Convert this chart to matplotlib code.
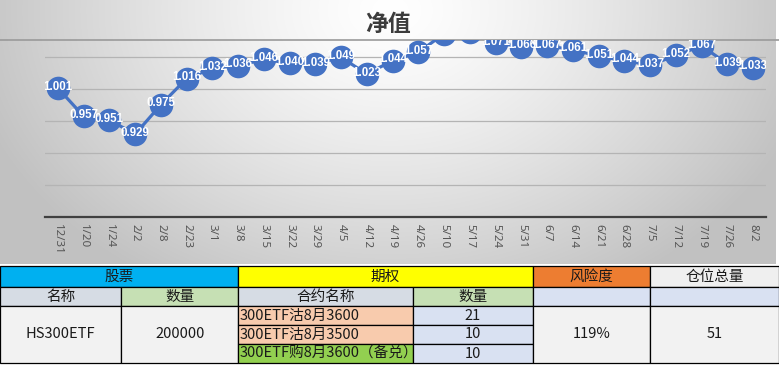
import numpy as np
import matplotlib.pyplot as plt
from matplotlib.patches import Rectangle

plt.rcParams['font.family'] = ['Noto Sans CJK SC', 'DejaVu Sans']

# chart data
dates = ["12/31", "1/20", "1/24", "2/2", "2/8", "2/23", "3/1", "3/8", "3/15",
         "3/22", "3/29", "4/5", "4/12", "4/19", "4/26", "5/10", "5/17", "5/24",
         "5/31", "6/7", "6/14", "6/21", "6/28", "7/5", "7/12", "7/19", "7/26", "8/2"]
nav = [1.001, 0.957, 0.951, 0.929, 0.975, 1.016, 1.032, 1.036, 1.046,
       1.040, 1.039, 1.049, 1.023, 1.044, 1.057, 1.086, 1.089, 1.071,
       1.066, 1.067, 1.061, 1.051, 1.044, 1.037, 1.052, 1.067, 1.039, 1.033]

# table data
group_headers = ["股票", "期权", "风险度", "仓位总量"]
sub_headers = ["名称", "数量", "合约名称", "数量", "", ""]
stock_name = "HS300ETF"
stock_qty = "200000"
contracts = ["300ETF沽8月3600", "300ETF沽8月3500", "300ETF购8月3600（备兑）"]
contract_qty = [21, 10, 10]
risk = "119%"
position_total = 51

W, H = 779, 365
fig = plt.figure(figsize=(W / 100, H / 100), dpi=100)

# pixel-coordinate canvas for background, title and table
bg = fig.add_axes([0, 0, 1, 1])
bg.set_xlim(0, W)
bg.set_ylim(H, 0)
bg.axis("off")

gw, gh = 776, 264
yy, xx = np.mgrid[0:gh, 0:gw]
t = np.sqrt(((xx - 390) / 430.0) ** 2 + ((yy - 10) / 320.0) ** 2)
shade = 1 - 0.24 * np.clip(t, 0, 1) ** 1.3
bg.imshow(np.dstack([shade] * 3), extent=(0, gw, gh, 0), aspect="auto", zorder=0)
bg.plot([0, W], [39.5, 39.5], color="#9a9a9a", lw=1.2, zorder=2)
bg.text(388, 24, "净值", ha="center", va="center", fontsize=16.5,
        fontweight="bold", color="#3c3c3c", zorder=3)

# chart axes
ax = fig.add_axes([45 / W, 1 - 216.7 / H, 721 / W, (216.7 - 39.5) / H])
ax.patch.set_alpha(0)
x = np.arange(len(dates))
ax.set_xlim(-0.5, len(dates) - 0.5)
ax.set_ylim(0.8, 1.077)
ax.set_yticks([0.85, 0.9, 0.95, 1.0, 1.05])
ax.yaxis.grid(True, color="#b4b4b4", lw=0.9)
ax.tick_params(axis="y", length=0, labelleft=False)
for s in ["left", "right", "top"]:
    ax.spines[s].set_visible(False)
ax.spines["bottom"].set_color("#404040")
ax.spines["bottom"].set_linewidth(1.6)
ax.set_xticks(x)
ax.set_xticklabels(dates, rotation=270, fontsize=8.3, color="#555555",
                   family=["Noto Sans", "DejaVu Sans"])
ax.tick_params(axis="x", length=0, pad=5)
ax.plot(x, nav, color="#4472C4", lw=2.3, marker="o", ms=17,
        markeredgewidth=0, zorder=3)
for xi, v in zip(x, nav):
    tx = ax.text(xi, v + 0.002, f"{v:.3f}", ha="center", va="center",
                 fontsize=8.3, fontweight="bold", color="white",
                 family=["Liberation Sans", "DejaVu Sans"], zorder=4)
    tx.set_clip_box(ax.bbox)
    tx.set_clip_on(True)

# table
cols = [0, 121.5, 238, 413, 533, 650, 779]
rows = [266, 287, 306, 325, 344, 363]
tfont = dict(fontsize=10.5, color="#1a1a1a", va="center")


def cell(x0, x1, y0, y1, color, label="", ha="center"):
    bg.add_patch(Rectangle((x0, y0), x1 - x0, y1 - y0, facecolor=color,
                           edgecolor="black", lw=0.9, zorder=5))
    if label != "":
        tx_ = (x0 + x1) / 2 if ha == "center" else x0 + 2
        bg.text(tx_, (y0 + y1) / 2, label, ha=ha, zorder=6, **tfont)


group_colors = ["#00B0F0", "#FFFF00", "#ED7D31", "#EFEFEF"]
group_spans = [(0, 2), (2, 4), (4, 5), (5, 6)]
for lab, c, (a, b) in zip(group_headers, group_colors, group_spans):
    cell(cols[a], cols[b], rows[0], rows[1], c, lab)

sub_colors = ["#D6DCE4", "#C6E0B4", "#D6DCE4", "#C6E0B4", "#D9E1F2", "#D9E1F2"]
for i, (lab, c) in enumerate(zip(sub_headers, sub_colors)):
    cell(cols[i], cols[i + 1], rows[1], rows[2], c, lab)

cell(cols[0], cols[1], rows[2], rows[5], "#F2F2F2", stock_name)
cell(cols[1], cols[2], rows[2], rows[5], "#F2F2F2", stock_qty)
contract_colors = ["#F8CBAD", "#F8CBAD", "#92D050"]
for i, (name, q, c) in enumerate(zip(contracts, contract_qty, contract_colors)):
    cell(cols[2], cols[3], rows[2 + i], rows[3 + i], c, name, ha="left")
    cell(cols[3], cols[4], rows[2 + i], rows[3 + i], "#D9E1F2", str(q))
cell(cols[4], cols[5], rows[2], rows[5], "#F2F2F2", risk)
cell(cols[5], cols[6], rows[2], rows[5], "#F2F2F2", str(position_total))

fig.savefig("out.png", dpi=100)
